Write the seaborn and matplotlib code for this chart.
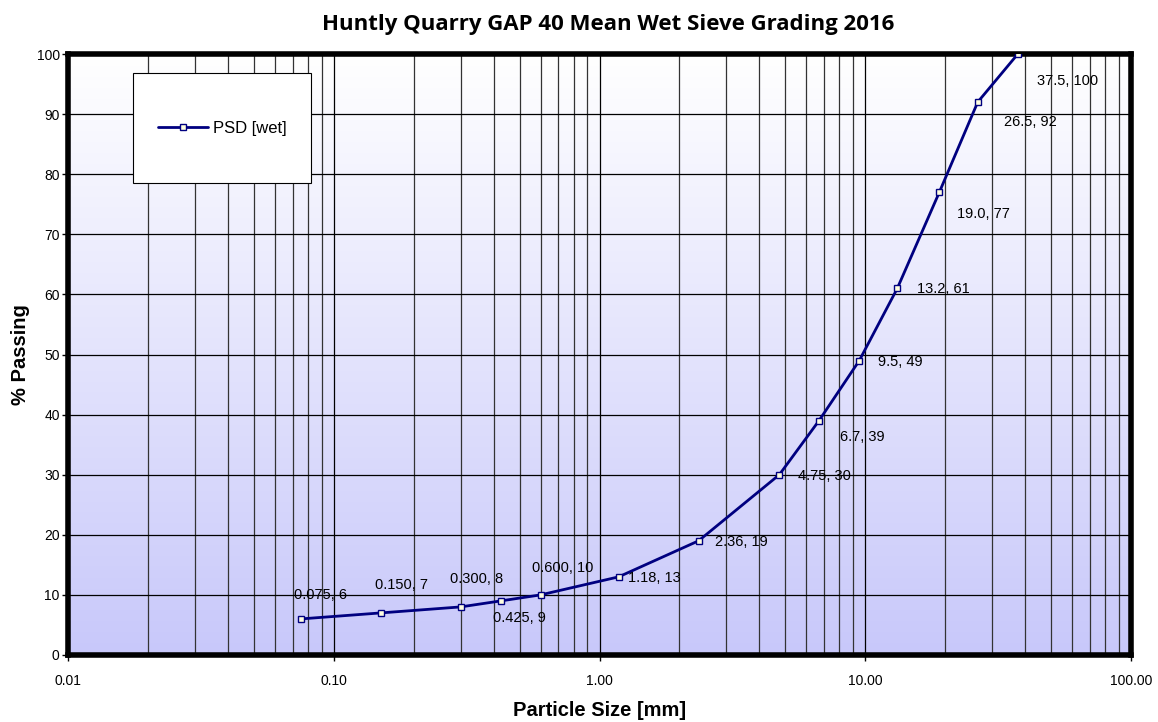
import numpy as np
import pandas as pd
import matplotlib
matplotlib.use("Agg")
import matplotlib.pyplot as plt
import seaborn as sns
from matplotlib.patches import Rectangle
from matplotlib.ticker import FixedLocator, LogLocator, NullFormatter

# Data
sieve_mm = [0.075, 0.150, 0.300, 0.425, 0.600, 1.18, 2.36, 4.75, 6.7, 9.5, 13.2, 19.0, 26.5, 37.5]
passing = [6, 7, 8, 9, 10, 13, 19, 30, 39, 49, 61, 77, 92, 100]
point_labels = ["0.075, 6", "0.150, 7", "0.300, 8", "0.425, 9", "0.600, 10", "1.18, 13",
                "2.36, 19", "4.75, 30", "6.7, 39", "9.5, 49", "13.2, 61", "19.0, 77",
                "26.5, 92", "37.5, 100"]
# label offsets in pixels (dx, dy)
label_offsets = [(20, 24), (21, 28), (16, 28), (19, -17), (22, 27), (36, -1),
                 (43, -1), (45, -1), (43, -16), (41, -1), (46, -1), (44, -22),
                 (53, -20), (50, -27)]
x_ticks = [0.01, 0.1, 1, 10, 100]
x_ticklabels = ["0.01", "0.10", "1.00", "10.00", "100.00"]
y_ticks = list(range(0, 101, 10))

df = pd.DataFrame({"size": sieve_mm, "passing": passing, "series": "PSD [wet]"})

sns.set_theme(style="white")
plt.rcParams['font.family'] = ['Liberation Sans', 'DejaVu Sans']
plt.rcParams['text.color'] = 'black'
plt.rcParams['axes.labelcolor'] = 'black'
plt.rcParams['xtick.color'] = 'black'
plt.rcParams['ytick.color'] = 'black'

fig = plt.figure(figsize=(11.58, 7.22), dpi=100)
ax = fig.add_axes([68 / 1158, 1 - 655 / 722, (1131 - 68) / 1158, (655 - 54) / 722])

# gradient background
grad = np.linspace(0, 1, 256).reshape(-1, 1)
cmap = matplotlib.colors.LinearSegmentedColormap.from_list("bg", ["#ffffff", "#c8c8fa"])
ax.imshow(grad, extent=[0, 1, 0, 1], transform=ax.transAxes, cmap=cmap,
          aspect="auto", origin="upper", zorder=0)

sns.lineplot(data=df, x="size", y="passing", hue="series", palette=["#000080"],
             marker="s", markersize=5, markerfacecolor="#ffffe0", markeredgecolor="#000080",
             markeredgewidth=1.0, linewidth=2, ax=ax, zorder=5, legend=False)

ax.set_xscale("log")
ax.set_xlim(0.01, 100)
ax.set_ylim(0, 100)
ax.xaxis.set_major_locator(FixedLocator(x_ticks))
ax.set_xticklabels(x_ticklabels)
ax.xaxis.set_minor_locator(LogLocator(base=10, subs=np.arange(2, 10)))
ax.xaxis.set_minor_formatter(NullFormatter())
ax.set_yticks(y_ticks)
ax.grid(True, which="major", axis="both", color="black", linewidth=0.9, zorder=1)
ax.grid(True, which="minor", axis="x", color="#333333", linewidth=0.9, zorder=1)
ax.set_axisbelow(True)
for s in ax.spines.values():
    s.set_linewidth(4)
    s.set_color("black")
ax.tick_params(axis="both", which="major", length=4, width=1, color="black",
               labelsize=10, labelcolor="black", direction="out", bottom=True, left=True)
ax.tick_params(axis="x", which="major", pad=10)
ax.tick_params(axis="y", which="major", pad=2)

for x, y, lab, (dx, dy) in zip(sieve_mm, passing, point_labels, label_offsets):
    ax.annotate(lab, (x, y), xytext=(dx, dy), textcoords="offset pixels",
                ha="center", va="center", fontsize=10.5, color="black", zorder=6)

# legend box
ax.add_patch(Rectangle((0.061, 0.785), 0.168, 0.183, transform=ax.transAxes,
                       facecolor="white", edgecolor="black", linewidth=0.8, zorder=7))
handle = plt.Line2D([], [], color="#000080", linewidth=2, marker="s", markersize=5,
                    markerfacecolor="#ffffe0", markeredgecolor="#000080")
leg = ax.legend([handle], ["PSD [wet]"], loc="center",
                bbox_to_anchor=(0.061, 0.785, 0.168, 0.183), frameon=False,
                fontsize=12, handlelength=3.0, handletextpad=0.3)
leg.set_zorder(8)

ax.set_xlabel("Particle Size [mm]", fontsize=14.5, fontweight="bold", labelpad=9)
ax.set_ylabel("% Passing", fontsize=14.5, fontweight="bold", labelpad=5)
fig.suptitle("Huntly Quarry GAP 40 Mean Wet Sieve Grading 2016", x=0.525, y=0.98,
             fontsize=16, fontweight="bold", color="black",
             family=["Open Sans", "DejaVu Sans"])

plt.savefig("out.png", dpi=100)
plt.close()
